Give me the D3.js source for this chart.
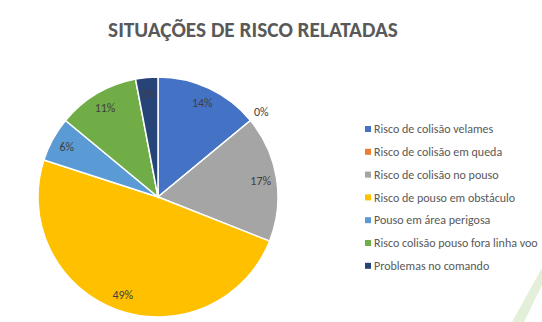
<!DOCTYPE html>
<html>
<head>
<meta charset="utf-8">
<script src="https://cdn.jsdelivr.net/npm/d3@7"></script>
<style>
  html, body { margin: 0; padding: 0; background: #fff; }
  svg { display: block; }
</style>
</head>
<body>
<svg id="chart" width="542" height="322"></svg>
<script>
// Reported risk situations (percent of reports)
const categories = [
  "Risco de colisão velames",
  "Risco de colisão em queda",
  "Risco de colisão no pouso",
  "Risco de pouso em obstáculo",
  "Pouso em área perigosa",
  "Risco colisão pouso fora linha voo",
  "Problemas no comando"
];
const values = [14, 0, 17, 49, 6, 11, 3];
const colors = ["#4472C4", "#ED7D31", "#A5A5A5", "#FFC000", "#5B9BD5", "#70AD47", "#264478"];

const svg = d3.select("#chart");
const font = "Carlito, 'Open Sans', 'Liberation Sans', sans-serif";

// decorative pale stripe in the bottom-right corner
svg.append("path")
  .attr("d", "M512,322 L542,268 L542,285 L524,322 Z")
  .attr("fill", "#e3efd9");

// title
svg.append("text")
  .attr("x", 253).attr("y", 37)
  .attr("text-anchor", "middle")
  .attr("font-family", font)
  .attr("font-weight", "bold")
  .attr("font-size", 21.3)
  .attr("fill", "#595959")
  .text("SITUAÇÕES DE RISCO RELATADAS");

const cx = 158, cy = 197, r = 120;
const data = categories.map((c, i) => ({ name: c, value: values[i], color: colors[i] }));
const pie = d3.pie().value(d => d.value).sort(null);
const arcs = pie(data);
const arc = d3.arc().innerRadius(0).outerRadius(r);
const labelArc = d3.arc().innerRadius(104).outerRadius(104);
const outerLabelArc = d3.arc().innerRadius(134).outerRadius(134);

const g = svg.append("g").attr("transform", `translate(${cx},${cy})`);
g.selectAll("path.slice")
  .data(arcs)
  .join("path")
  .attr("class", "slice")
  .attr("d", arc)
  .attr("fill", d => d.data.color)
  .attr("stroke", "#fff")
  .attr("stroke-width", 1.5);

g.selectAll("text.lbl")
  .data(arcs)
  .join("text")
  .attr("class", "lbl")
  .attr("transform", d => `translate(${(d.data.value === 0 ? outerLabelArc : labelArc).centroid(d)})`)
  .attr("text-anchor", "middle")
  .attr("dy", "0.35em")
  .attr("font-family", font)
  .attr("font-size", 12)
  .attr("fill", "#404040")
  .text(d => d3.format(".0%")(d.data.value / d3.sum(values)));

// legend
const legend = svg.append("g").attr("transform", "translate(365,129)");
const row = legend.selectAll("g")
  .data(data)
  .join("g")
  .attr("transform", (d, i) => `translate(0,${i * 22.8})`);
row.append("rect")
  .attr("x", 0).attr("y", -3)
  .attr("width", 6).attr("height", 6)
  .attr("fill", d => d.color);
row.append("text")
  .attr("x", 9).attr("y", 0)
  .attr("dy", "0.35em")
  .attr("font-family", font)
  .attr("font-size", 12)
  .attr("fill", "#595959")
  .text(d => d.name);
</script>
</body>
</html>
